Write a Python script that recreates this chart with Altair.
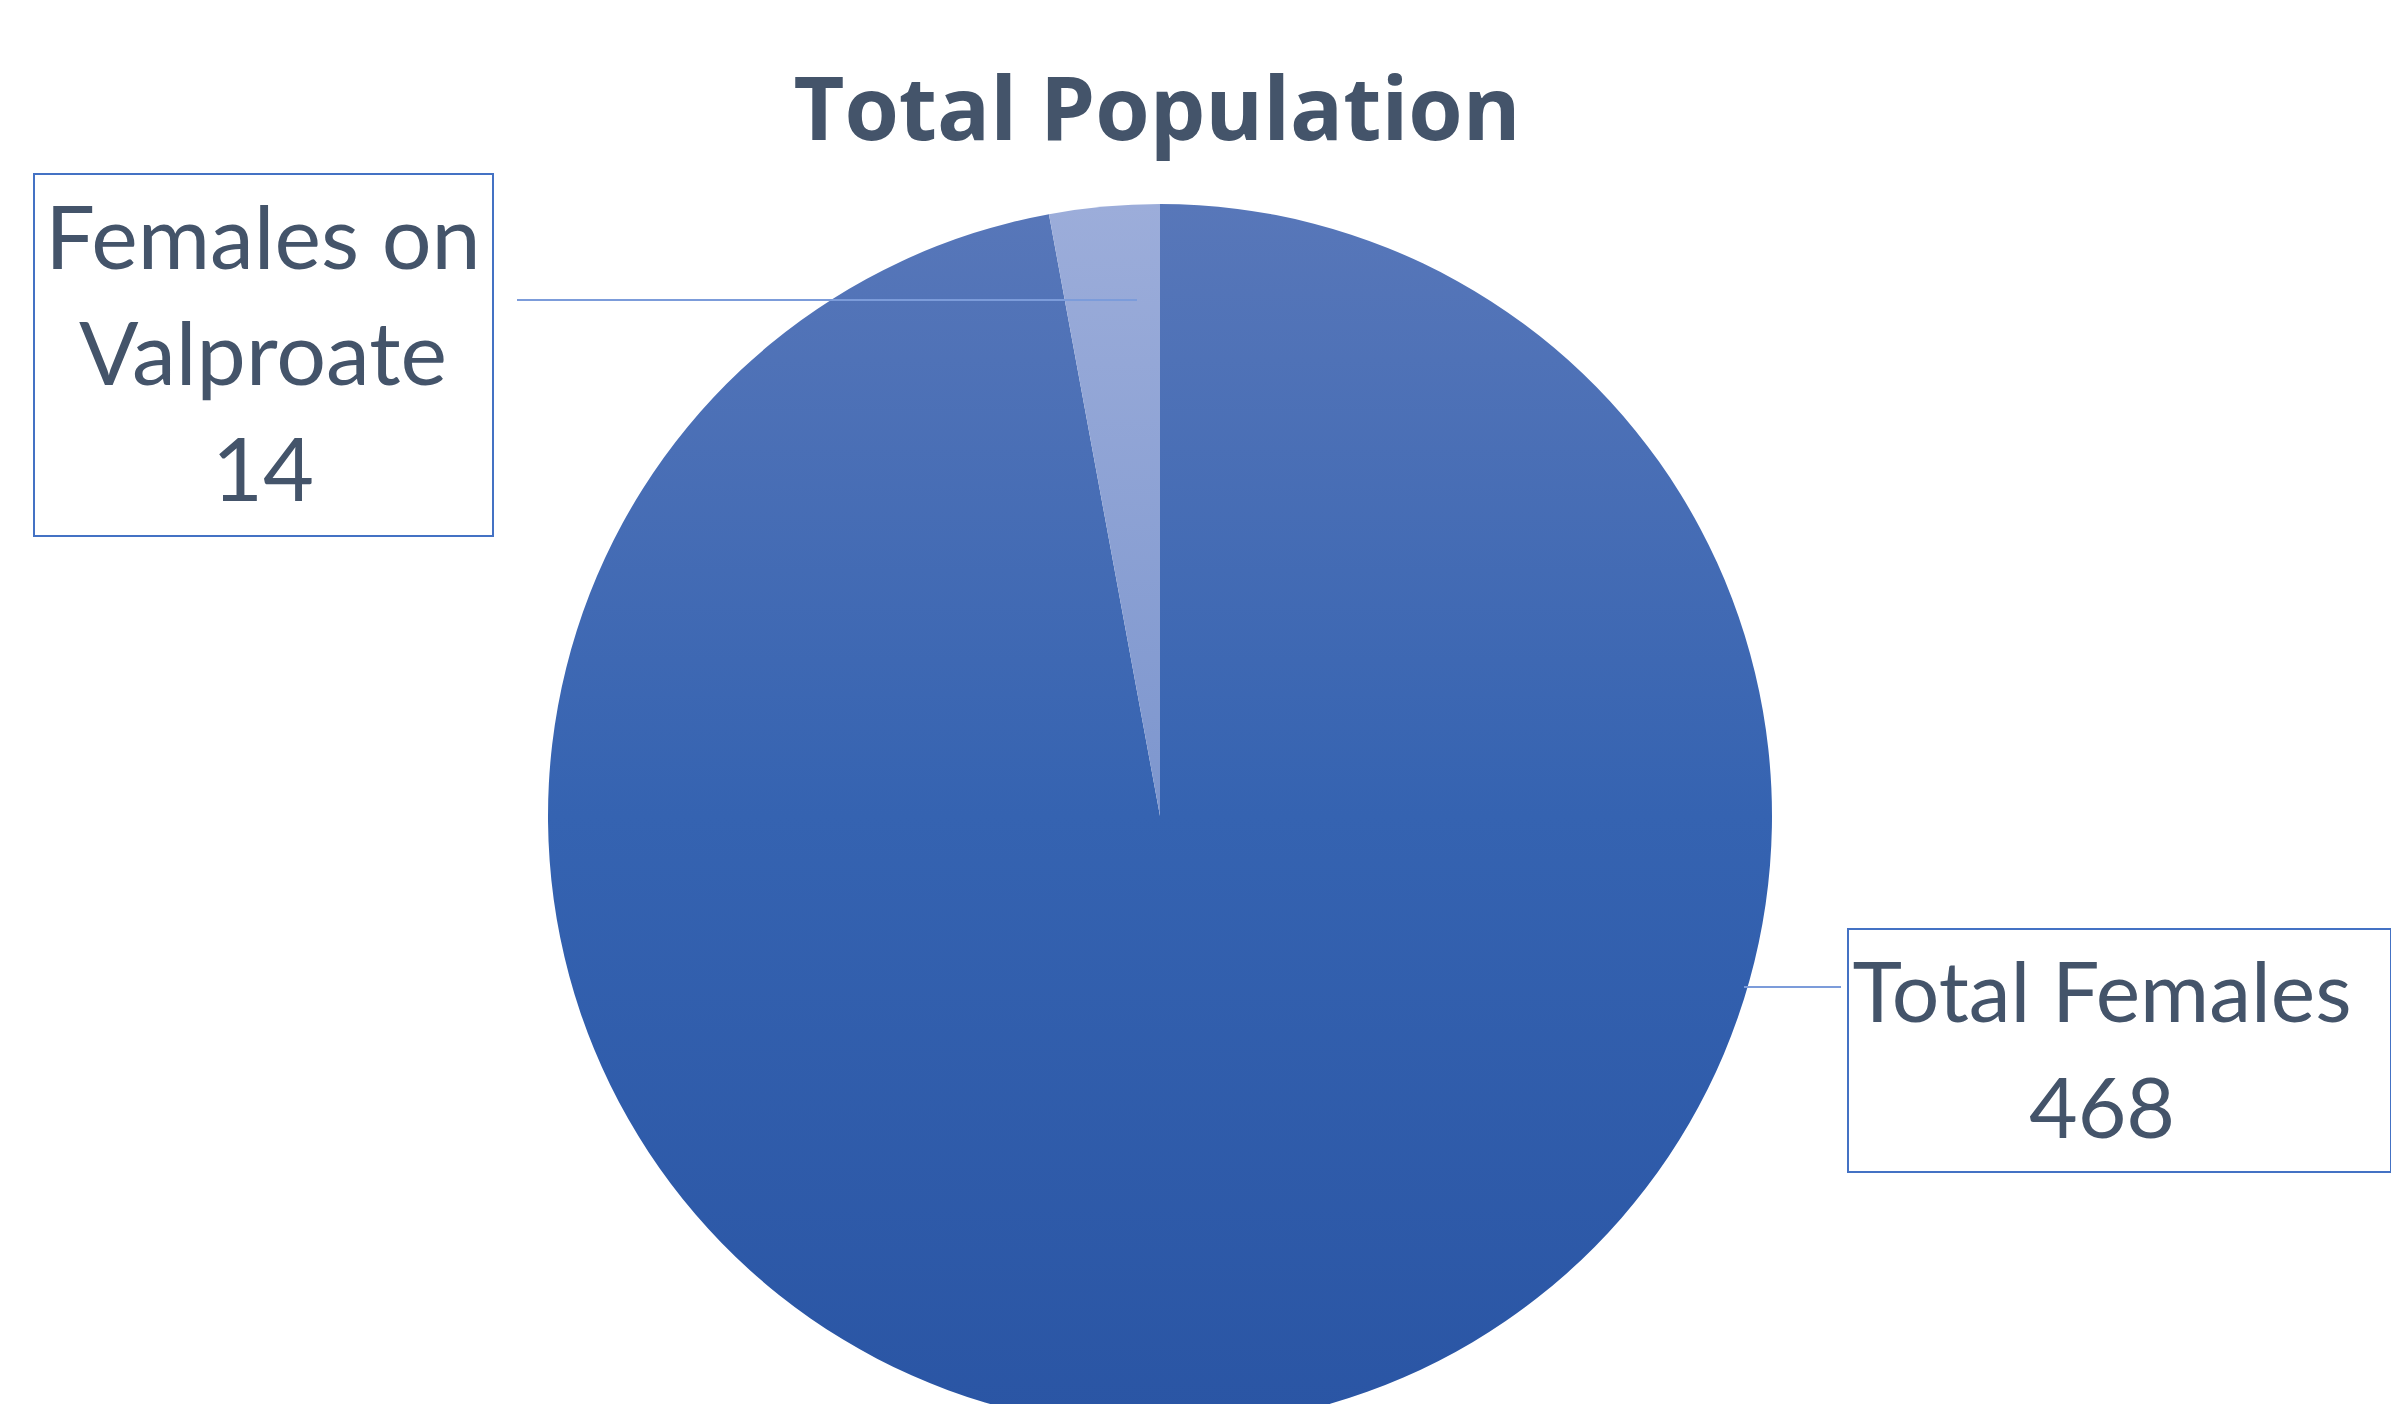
import altair as alt
import pandas as pd

# ---- data ----
categories = ["Total Females", "Females on Valproate"]
values = [468, 14]
label_lines = [["Total Females"], ["Females on", "Valproate"]]
title_text = "Total Population"

# ---- layout (plot coordinates, px) ----
W, H = 2383, 1396
CX, CY, R = 1152, 808, 612
label_center_x = [2094, 255]
label_first_baseline = [1014, 261]
label_font_size = [84, 88]
line_height = 116
boxes = [(1840, 921, 2383, 1164), (26, 166, 485, 528)]
leaders = [(1736, 1833, 979), (509, 1129, 292)]
TEXT = "#44546A"

grad_main = alt.LinearGradient(
    gradient="linear", x1=0, y1=0, x2=0, y2=1,
    stops=[alt.GradientStop(color="#5877B9", offset=0),
           alt.GradientStop(color="#3563B1", offset=0.5),
           alt.GradientStop(color="#2A55A4", offset=1)],
)
grad_small = alt.LinearGradient(
    gradient="linear", x1=0, y1=0, x2=0, y2=1,
    stops=[alt.GradientStop(color="#9CADDA", offset=0),
           alt.GradientStop(color="#7D96CE", offset=1)],
)

pie_df = pd.DataFrame({"category": categories, "value": values,
                       "order": list(range(len(categories)))})

pie = alt.Chart(pie_df).mark_arc(radius=R).encode(
    theta=alt.Theta("value:Q", stack=True),
    order=alt.Order("order:Q"),
    x=alt.value(CX), y=alt.value(CY),
    fill=alt.condition(alt.datum.category == categories[0],
                       alt.value(grad_main.to_dict()),
                       alt.value(grad_small.to_dict())),
)

rows = []
for i, cat in enumerate(categories):
    lines = label_lines[i] + [str(values[i])]
    for j, t in enumerate(lines):
        rows.append({"text": t, "px": label_center_x[i], "fs": label_font_size[i],
                     "py": label_first_baseline[i] + j * line_height})
text_df = pd.DataFrame(rows)

labels = alt.Chart(text_df).mark_text(
    font="Lato", color=TEXT, align="center", baseline="alphabetic"
).encode(x=alt.X("px:Q", scale=None), y=alt.Y("py:Q", scale=None), text="text:N",
         size=alt.Size("fs:Q", scale=None, legend=None))

box_df = pd.DataFrame([{"x0": b[0], "y0": b[1], "x1": b[2], "y1": b[3]} for b in boxes])
box_layer = alt.Chart(box_df).mark_rect(fill="white", stroke="#4472C4", strokeWidth=2).encode(
    x=alt.X("x0:Q", scale=None), x2="x1:Q",
    y=alt.Y("y0:Q", scale=None), y2="y1:Q",
)

lead_df = pd.DataFrame([{"x0": l[0], "x1": l[1], "y": l[2]} for l in leaders])
lead_layer = alt.Chart(lead_df).mark_rule(color="#7C9CDA", strokeWidth=2).encode(
    x=alt.X("x0:Q", scale=None), x2="x1:Q", y=alt.Y("y:Q", scale=None),
)

title_df = pd.DataFrame({"t": [title_text]})
title_layer = alt.Chart(title_df).mark_text(
    font="Open Sans", fontSize=88, fontWeight="bold", color=TEXT,
    align="center", baseline="alphabetic"
).encode(x=alt.value(1149), y=alt.value(132), text="t:N")

chart = alt.layer(pie, lead_layer, box_layer, labels, title_layer).properties(
    width=W, height=H, autosize=alt.AutoSizeParams(type="none"), padding=0
).configure_view(stroke=None)

chart.save("out.html", embed_options={"renderer": "svg", "actions": False})
